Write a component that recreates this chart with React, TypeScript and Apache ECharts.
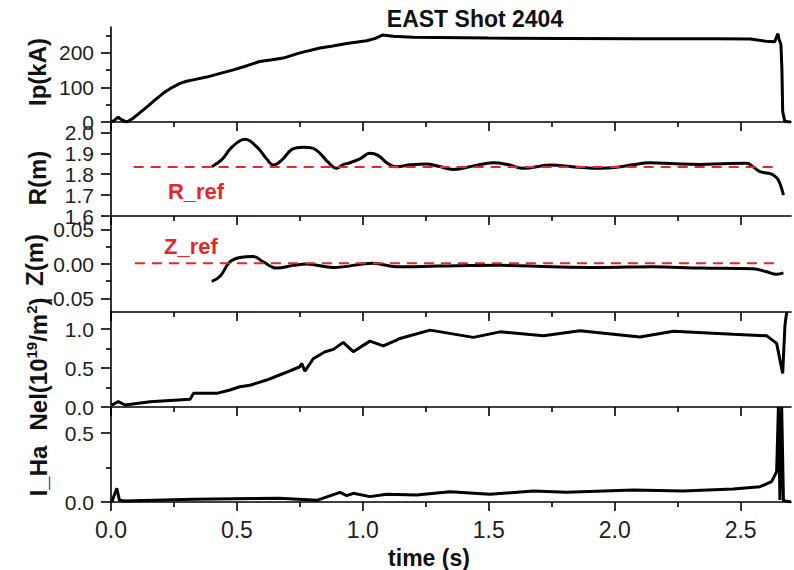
import React, { useEffect, useRef } from 'react';
import * as echarts from 'echarts';

// ---------- data ----------
const tIp = [0, 0.012, 0.028, 0.045, 0.063, 0.088, 0.115, 0.143, 0.175, 0.207, 0.24, 0.274, 0.3, 0.326, 0.38, 0.43, 0.486, 0.54, 0.59, 0.64, 0.684, 0.75, 0.83, 0.88, 0.936, 1.015, 1.05, 1.08, 1.12, 1.2, 1.5, 1.8, 2.1, 2.4, 2.54, 2.6, 2.635, 2.648, 2.653, 2.66, 2.664, 2.667, 2.675, 2.69, 2.7];
const ip = [0, 4, 14, 5, 0, 11, 27, 44, 64, 83, 99, 112, 118, 122, 130, 140, 151, 163, 175, 180, 185, 200, 214, 220, 227, 235, 242, 252, 248, 245, 243, 242, 241, 241, 240, 234, 232, 256, 238, 225, 150, 30, 3, 0, 0];

const tR = [0.4, 0.44, 0.48, 0.532, 0.58, 0.62, 0.645, 0.68, 0.72, 0.764, 0.8, 0.83, 0.86, 0.896, 0.92, 0.949, 0.99, 1.028, 1.06, 1.1, 1.134, 1.19, 1.253, 1.3, 1.36, 1.44, 1.518, 1.58, 1.637, 1.743, 1.84, 1.942, 2.008, 2.07, 2.14, 2.24, 2.339, 2.43, 2.524, 2.55, 2.577, 2.61, 2.63, 2.65, 2.67];
const rVal = [1.836, 1.87, 1.93, 1.967, 1.93, 1.87, 1.844, 1.87, 1.92, 1.929, 1.925, 1.9, 1.86, 1.828, 1.845, 1.855, 1.875, 1.9, 1.89, 1.85, 1.836, 1.845, 1.849, 1.838, 1.823, 1.84, 1.855, 1.845, 1.828, 1.844, 1.835, 1.828, 1.833, 1.845, 1.855, 1.85, 1.847, 1.85, 1.852, 1.835, 1.812, 1.805, 1.796, 1.772, 1.7];

const tZ = [0.4, 0.433, 0.472, 0.512, 0.565, 0.605, 0.658, 0.724, 0.777, 0.883, 1.04, 1.134, 1.3, 1.545, 1.75, 1.94, 2.15, 2.339, 2.55, 2.6, 2.643, 2.67];
const zVal = [-0.0255, -0.018, 0.003, 0.0095, 0.011, 0.003, -0.006, -0.002, 0.0, -0.005, 0.001, -0.004, -0.003, -0.002, -0.004, -0.005, -0.004, -0.006, -0.007, -0.011, -0.015, -0.013];

const tNel = [0.003, 0.029, 0.056, 0.155, 0.314, 0.327, 0.42, 0.472, 0.512, 0.552, 0.618, 0.684, 0.75, 0.757, 0.77, 0.803, 0.85, 0.883, 0.922, 0.962, 1.028, 1.081, 1.134, 1.147, 1.267, 1.439, 1.545, 1.717, 1.862, 2.1, 2.233, 2.47, 2.604, 2.643, 2.667, 2.676, 2.683];
const nel = [0.025, 0.07, 0.026, 0.068, 0.098, 0.175, 0.175, 0.218, 0.26, 0.28, 0.346, 0.43, 0.517, 0.56, 0.46, 0.62, 0.71, 0.74, 0.83, 0.71, 0.846, 0.786, 0.86, 0.88, 0.987, 0.894, 0.965, 0.914, 0.978, 0.9, 0.974, 0.935, 0.914, 0.817, 0.43, 1.05, 1.22];

const tHa = [0.003, 0.015, 0.023, 0.033, 0.05, 0.326, 0.67, 0.817, 0.909, 0.936, 0.962, 1.028, 1.095, 1.213, 1.346, 1.505, 1.677, 1.81, 2.074, 2.272, 2.47, 2.577, 2.623, 2.643, 2.65, 2.656, 2.663, 2.67, 2.7];
const ha = [0.0, 0.06, 0.1, 0.015, 0.007, 0.02, 0.027, 0.012, 0.07, 0.046, 0.063, 0.039, 0.056, 0.05, 0.075, 0.056, 0.08, 0.07, 0.087, 0.08, 0.095, 0.111, 0.148, 0.22, 0.69, 0.015, 0.69, 0.01, 0.0];

const tRRef = [0.09, 2.63];
const rRef = [1.835, 1.835];
const tZRef = [0.095, 2.64];
const zRef = [0.001, 0.001];

// ---------- ticks ----------
const xMajor = [0, 0.5, 1.0, 1.5, 2.0, 2.5];
const xMinor = [0.25, 0.75, 1.25, 1.75, 2.25];
const ipMajor = [0, 100, 200];
const ipMinor = [50, 150, 250];
const rMajor = [1.6, 1.7, 1.8, 1.9, 2.0];
const rMinor: number[] = [];
const zMajor = [-0.05, 0, 0.05];
const zMinor = [-0.025, 0.025];
const nelMajor = [0, 0.5, 1.0];
const nelMinor = [0.25, 0.75];
const haMajor = [0, 0.5];
const haMinor = [0.25];

const FONT = '"Liberation Sans", Arial, Helvetica, sans-serif';
const RED = '#e8262a';

const pairs = (t: number[], v: number[]) => t.map((x, i) => [x, v[i]]);

export default function App() {
  const ref = useRef<HTMLDivElement>(null);
  useEffect(() => {
    if (!ref.current) return;
    const chart = echarts.init(ref.current, null, { renderer: 'svg' });
    const LEFT = 111;
    const RIGHT = 3;
    const panels = [
      { top: 27, height: 95, min: 0, max: 275, major: ipMajor, minor: ipMinor, dec: 0 },
      { top: 122, height: 94, min: 1.6, max: 2.05, major: rMajor, minor: rMinor, dec: 1 },
      { top: 216, height: 96, min: -0.07, max: 0.07, major: zMajor, minor: zMinor, dec: 2 },
      { top: 312, height: 95, min: 0, max: 1.22, major: nelMajor, minor: nelMinor, dec: 1 },
      { top: 407, height: 95, min: 0, max: 0.69, major: haMajor, minor: haMinor, dec: 1 },
    ];
    const grids = [
      ...panels.map((p) => ({ left: LEFT, right: RIGHT, top: p.top, height: p.height })),
      ...panels.map((p) => ({ left: LEFT, right: RIGHT, top: p.top, height: p.height })),
    ];
    const lineStyle = { color: '#000', width: 1.6 };
    const xAxes: any[] = [];
    const yAxes: any[] = [];
    panels.forEach((p, i) => {
      xAxes.push({
        gridIndex: i, type: 'value', min: 0, max: 2.7,
        axisLine: { show: true, onZero: false, lineStyle },
        axisTick: { show: true, inside: false, length: 9, customValues: xMajor, lineStyle },
        axisLabel: {
          show: i === 4, customValues: xMajor, formatter: (v: number) => v.toFixed(1),
          fontSize: 23, color: '#222', margin: 16, fontFamily: FONT,
        },
        splitLine: { show: false },
      });
      yAxes.push({
        gridIndex: i, type: 'value', min: p.min, max: p.max,
        axisLine: { show: true, onZero: false, lineStyle },
        axisTick: { show: true, inside: false, length: 10, customValues: p.major, lineStyle },
        axisLabel: {
          show: true, customValues: p.major, formatter: (v: number) => v.toFixed(p.dec),
          fontSize: 21, color: '#222', margin: 17, fontFamily: FONT,
        },
        splitLine: { show: false },
      });
    });
    panels.forEach((p, i) => {
      xAxes.push({
        gridIndex: 5 + i, type: 'value', min: 0, max: 2.7,
        axisLine: { show: false, onZero: false },
        axisTick: { show: true, inside: false, length: 5, customValues: xMinor, lineStyle },
        axisLabel: { show: false },
        splitLine: { show: false },
      });
      yAxes.push({
        gridIndex: 5 + i, type: 'value', min: p.min, max: p.max,
        axisLine: { show: false, onZero: false },
        axisTick: { show: p.minor.length > 0, inside: false, length: 5, customValues: p.minor, lineStyle },
        axisLabel: { show: false },
        splitLine: { show: false },
      });
    });

    const dataLine = (i: number, data: number[][], smooth: number | boolean = false) => ({
      type: 'line', xAxisIndex: i, yAxisIndex: i, data, showSymbol: false, symbol: 'none', smooth,
      lineStyle: { color: '#000', width: 3 }, silent: true, z: 3,
    });
    const refLine = (i: number, data: number[][]) => ({
      type: 'line', xAxisIndex: i, yAxisIndex: i, data, showSymbol: false, symbol: 'none',
      lineStyle: { color: RED, width: 2, type: [10, 7] }, silent: true, z: 4,
    });

    const nameText = (text: string, x: number, y: number, rich?: any) => ({
      type: 'text', x, y, rotation: Math.PI / 2,
      style: {
        text, fill: '#111', fontSize: 24, fontWeight: 'bold', fontFamily: FONT,
        align: 'center', verticalAlign: 'middle', rich,
      },
    });

    chart.setOption({
      animation: false,
      backgroundColor: '#fff',
      grid: grids,
      xAxis: xAxes,
      yAxis: yAxes,
      series: [
        dataLine(0, pairs(tIp, ip)),
        dataLine(1, pairs(tR, rVal), 0.4),
        dataLine(2, pairs(tZ, zVal), 0.4),
        dataLine(3, pairs(tNel, nel)),
        dataLine(4, pairs(tHa, ha)),
        refLine(1, pairs(tRRef, rRef)),
        refLine(2, pairs(tZRef, zRef)),
      ],
      graphic: [
        {
          type: 'text', x: 475, y: 19,
          style: { text: 'EAST Shot 2404', fill: '#111', fontSize: 23, fontWeight: 'bold', fontFamily: FONT, align: 'center', verticalAlign: 'middle' },
        },
        nameText('Ip(kA)', 37, 72),
        nameText('R(m)', 37, 178),
        nameText('Z(m)', 34, 260),
        nameText('{b|Nel(10}{s|19}{b|/m}{s|2}{b|)}', 37, 364, {
          b: { fontSize: 24, fontWeight: 'bold', fontFamily: FONT, fill: '#111', lineHeight: 26, verticalAlign: 'bottom' },
          s: { fontSize: 15, fontWeight: 'bold', fontFamily: FONT, fill: '#111', lineHeight: 26, verticalAlign: 'top' },
        }),
        nameText('I_Ha', 38, 471),
        {
          type: 'text', x: 196, y: 191,
          style: { text: 'R_ref', fill: RED, fontSize: 22, fontWeight: 'bold', fontFamily: FONT, align: 'center', verticalAlign: 'middle' },
        },
        {
          type: 'text', x: 191, y: 246,
          style: { text: 'Z_ref', fill: RED, fontSize: 22, fontWeight: 'bold', fontFamily: FONT, align: 'center', verticalAlign: 'middle' },
        },
        {
          type: 'text', x: 429, y: 558,
          style: { text: 'time (s)', fill: '#111', fontSize: 23, fontWeight: 'bold', fontFamily: FONT, align: 'center', verticalAlign: 'middle' },
        },
      ],
    });
    return () => chart.dispose();
  }, []);
  return (
    <div
      ref={ref}
      style={{ position: 'fixed', left: 0, top: 0, width: 794, height: 570, background: '#fff' }}
    />
  );
}
